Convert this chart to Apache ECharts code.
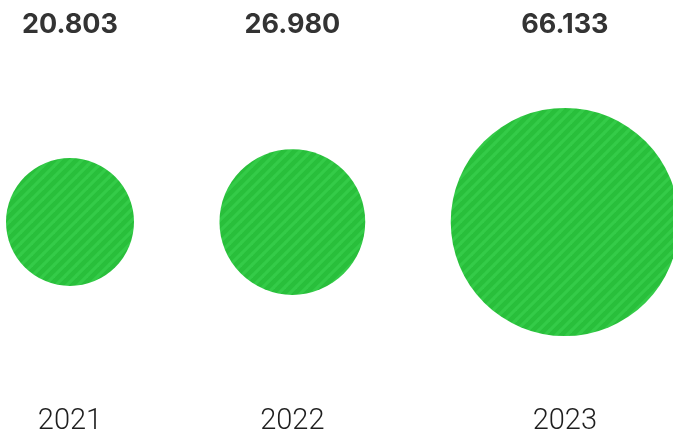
<!DOCTYPE html>
<html>
<head>
<meta charset="utf-8">
<script src="https://cdn.jsdelivr.net/npm/echarts@6/dist/echarts.min.js"></script>
<style>
html,body{margin:0;padding:0;background:#fff;}
#chart{width:673px;height:437px;}
</style>
</head>
<body>
<div id="chart"></div>
<script>
// ---- data ----
const years = ['2021', '2022', '2023'];
const values = [20.803, 26.980, 66.133];
const valueLabels = ['20.803', '26.980', '66.133'];

// ---- layout constants ----
const W = 673, H = 437;
const SIZE_K = 28.06;       // diameter (px) = SIZE_K * sqrt(value)
const FIRST_LEFT = 6;       // left edge of first circle
const GAP = 85.5;           // gap between circle edges
const CENTER_Y = 222;
const VALUE_ROW_Y = 24.5;
const YEAR_ROW_Y = 421.5;

const diam = v => SIZE_K * Math.sqrt(v);
const xs = [];
values.forEach((v, i) => {
  const r = diam(v) / 2;
  if (i === 0) xs.push(FIRST_LEFT + r);
  else xs.push(xs[i - 1] + diam(values[i - 1]) / 2 + GAP + r);
});

// striped pattern tile
const tile = document.createElement('canvas');
const S = 11;
tile.width = S; tile.height = S;
const c = tile.getContext('2d');
c.fillStyle = '#29bf3b';
c.fillRect(0, 0, S, S);
c.strokeStyle = '#34cb48';
c.lineWidth = 3.2;
for (let k = -1; k <= 1; k++) {
  c.beginPath();
  c.moveTo(k * S - 1, S + 1);
  c.lineTo(k * S + S + 1, -1);
  c.stroke();
}

const chart = echarts.init(document.getElementById('chart'));
chart.setOption({
  animation: false,
  grid: {left: 0, right: 0, top: 0, bottom: 0},
  xAxis: {type: 'value', min: 0, max: W, show: false},
  yAxis: {type: 'value', min: 0, max: H, inverse: true, show: false},
  series: [
    {
      type: 'custom',
      silent: true,
      data: values.map((v, i) => [xs[i], CENTER_Y, v]),
      renderItem: (params, api) => {
        const p = api.coord([api.value(0), api.value(1)]);
        return {
          type: 'circle',
          shape: {cx: p[0], cy: p[1], r: diam(api.value(2)) / 2},
          style: {fill: {image: tile, repeat: 'repeat'}}
        };
      }
    },
    {
      type: 'custom',
      silent: true,
      data: valueLabels.map((t, i) => [xs[i], VALUE_ROW_Y, i]),
      renderItem: (params, api) => {
        const p = api.coord([api.value(0), api.value(1)]);
        return {
          type: 'text', x: p[0], y: p[1],
          style: {
            text: valueLabels[api.value(2)],
            fontFamily: 'Inter, "Liberation Sans", Arial, sans-serif',
            fontWeight: 700, fontSize: 27, fill: '#333333',
            align: 'center', verticalAlign: 'middle'
          }
        };
      }
    },
    {
      type: 'custom',
      silent: true,
      data: years.map((t, i) => [xs[i], YEAR_ROW_Y, i]),
      renderItem: (params, api) => {
        const p = api.coord([api.value(0), api.value(1)]);
        return {
          type: 'text', x: p[0], y: p[1],
          style: {
            text: years[api.value(2)],
            fontFamily: 'Roboto, "Liberation Sans", Arial, sans-serif',
            fontWeight: 300, fontSize: 29, fill: '#1e1e1e',
            align: 'center', verticalAlign: 'middle'
          }
        };
      }
    }
  ]
});
</script>
</body>
</html>
